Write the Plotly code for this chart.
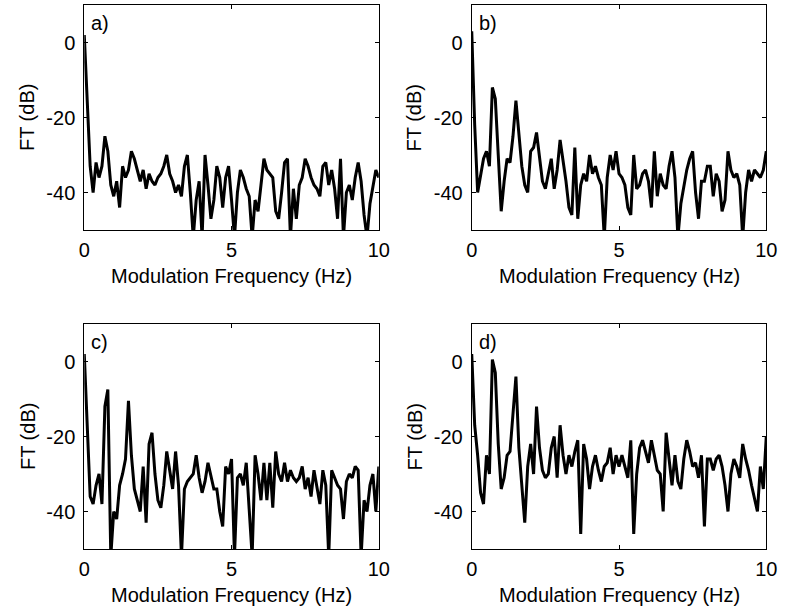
import numpy as np
import plotly.graph_objects as go

# Modulation frequency grid (Hz)
freq = [round(0.1 * i, 1) for i in range(101)]

# FT magnitude (dB)
ft_a = [2, -17, -33, -40, -32, -36, -33, -25, -29, -38,
        -41, -37, -44, -33, -36, -34, -29, -31, -34, -37,
        -34, -39, -35, -37, -38, -36, -35, -33, -30, -35,
        -37, -40, -38, -41, -33, -30, -40, -52, -42, -37,
        -52, -30, -38, -47, -42, -33, -36, -44, -36, -33,
        -42, -52, -40, -34, -36, -39, -41, -52, -42, -45,
        -38, -31, -34, -35, -36, -45, -47, -40, -32, -31,
        -52, -39, -47, -38, -36, -31, -33, -36, -38, -39,
        -41, -33, -32, -38, -34, -39, -47, -31, -52, -40,
        -38, -42, -36, -32, -37, -46, -52, -43, -39, -34,
        -36]
ft_b = [3, -22, -40, -35, -31, -29, -33, -12, -15, -30,
        -45, -37, -31, -32, -25, -15.5, -24, -33, -38, -40,
        -29, -28, -24, -31, -37, -39, -35, -31, -39, -34,
        -26, -31, -37, -44, -46, -28, -47, -38, -35, -37,
        -30, -35, -33, -36, -38, -52, -36, -30, -34, -29,
        -35, -36, -38, -44, -46, -30, -39, -38, -35, -34,
        -37, -44, -29, -41, -35, -38, -39, -33, -29, -36,
        -52, -43, -38, -34, -31, -29, -40, -47, -37, -37,
        -33, -33, -41, -35, -37, -45, -42, -29, -34, -36,
        -35, -38, -52, -40, -34, -37, -34, -35, -36, -34,
        -29]
ft_c = [2, -19, -36, -38, -33, -30, -38, -12, -7.5, -52,
        -40, -42, -33, -30, -26, -10.5, -25, -34, -37, -40,
        -28, -43, -22, -19, -30, -37, -39, -33, -24, -29,
        -34, -24, -33, -52, -34, -32, -31, -30, -25, -31,
        -35, -32, -27, -31, -34, -34, -40, -44, -28, -30,
        -26, -52, -31, -30, -33, -27, -38, -52, -25, -30,
        -37, -27, -37, -27, -39, -24, -30, -32, -27, -32,
        -29, -31, -32, -31, -28, -34, -31, -36, -29, -33,
        -38, -29, -33, -52, -29, -31, -33, -34, -42, -32,
        -30, -31, -28, -29, -52, -37, -40, -33, -30, -40,
        -28]
ft_d = [2, -17, -25, -35, -38, -25, -30, 0.5, -3, -22,
        -34, -31, -25, -24, -14, -4, -23, -32, -43, -28,
        -22, -30, -12, -23, -29, -31, -30, -23, -20, -31,
        -17, -25, -30, -25, -28, -24, -21, -46, -22, -26,
        -34, -28, -25, -29, -32, -28, -27, -23, -30, -25,
        -28, -25, -28, -31, -21, -46, -30, -23, -21, -24,
        -27, -21, -25, -29, -30, -40, -19, -26, -33, -25,
        -32, -34, -26, -21, -24, -28, -27, -31, -25, -44,
        -26, -26, -29, -26, -25, -28, -33, -40, -30, -26,
        -28, -31, -22, -26, -29, -33, -37, -40, -28, -34,
        -20]

panel_labels = ["a)", "b)", "c)", "d)"]
x_ticks = [0, 5, 10]
y_ticks = [-40, -20, 0]
y_ticktext = ["-40", "-20", "0"]
x_title = "Modulation Frequency (Hz)"
y_title = "FT (dB)"

W, H = 789, 615
FONT = "Liberation Sans, Arial, sans-serif"
FS = 20

# panel pixel boxes: (left, right, top, bottom)
boxes = [(80, 381, 5, 230), (476, 777, 5, 230),
         (80, 381, 324, 549), (476, 777, 324, 549)]
series = [ft_a, ft_b, ft_c, ft_d]

fig = go.Figure()
layout = dict(
    width=W, height=H,
    margin=dict(l=0, r=0, t=0, b=0),
    paper_bgcolor="white", plot_bgcolor="white",
    showlegend=False,
    font=dict(family=FONT, size=FS, color="black"),
    annotations=[],
)

for i, (ys, (l, r, t, b)) in enumerate(zip(series, boxes)):
    n = "" if i == 0 else str(i + 1)
    fig.add_trace(go.Scatter(x=freq, y=ys, mode="lines",
                             line=dict(color="black", width=3),
                             xaxis="x" + n, yaxis="y" + n,
                             cliponaxis=True))
    layout["xaxis" + n] = dict(
        domain=[l / W, r / W], anchor="y" + n, range=[0, 10],
        tickvals=x_ticks, ticks="inside", ticklen=4, tickcolor="black",
        showline=True, linecolor="black", linewidth=1, mirror="ticks",
        showgrid=False, zeroline=False, ticklabelstandoff=2,
        tickfont=dict(family=FONT, size=FS, color="black"))
    layout["yaxis" + n] = dict(
        domain=[1 - b / H, 1 - t / H], anchor="x" + n, range=[-50, 10],
        tickvals=y_ticks, ticktext=y_ticktext, ticks="inside", ticklen=4,
        tickcolor="black", ticklabelstandoff=4,
        showline=True, linecolor="black", linewidth=1, mirror="ticks",
        showgrid=False, zeroline=False,
        tickfont=dict(family=FONT, size=FS, color="black"))
    cx = (l + r) / 2
    cy = (t + b) / 2
    layout["annotations"] += [
        dict(text=x_title, x=cx / W, y=1 - (b + 46) / H, xref="paper", yref="paper",
             showarrow=False, xanchor="center", yanchor="middle",
             font=dict(family=FONT, size=FS, color="black")),
        dict(text=y_title, x=(l - 58) / W, y=1 - cy / H, xref="paper", yref="paper",
             showarrow=False, xanchor="center", yanchor="middle", textangle=-90,
             font=dict(family=FONT, size=FS, color="black")),
        dict(text=panel_labels[i], x=(l + 5) / W, y=1 - (t + 18) / H,
             xref="paper", yref="paper", showarrow=False,
             xanchor="left", yanchor="middle",
             font=dict(family=FONT, size=FS, color="black")),
    ]

fig.update_layout(**layout)
fig.write_html("out.html")
